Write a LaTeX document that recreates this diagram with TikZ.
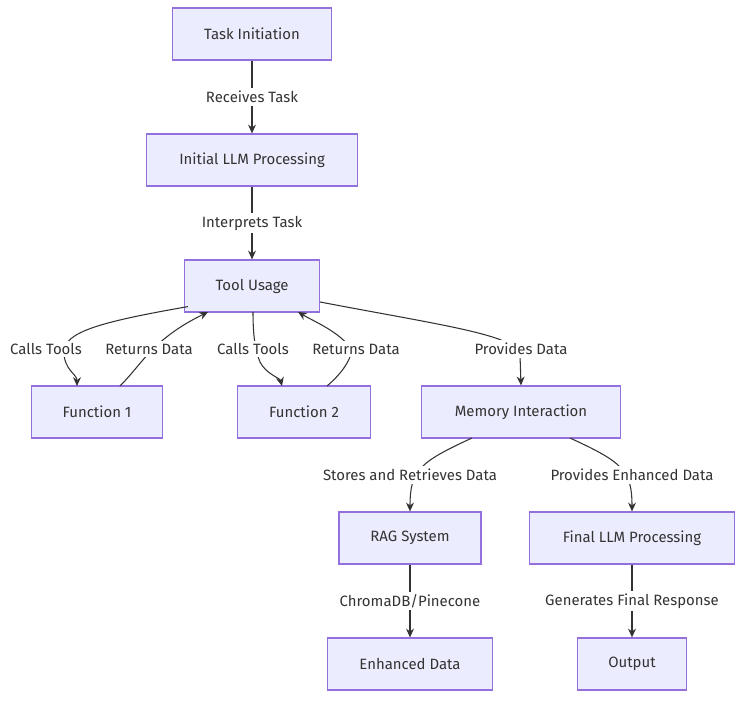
\documentclass[tikz,border=0pt]{standalone}
\usepackage{fontspec}
\setmainfont{Fira Sans}
\usetikzlibrary{arrows.meta}
\definecolor{nfill}{HTML}{ECECFF}
\definecolor{nstroke}{HTML}{9370DB}
\definecolor{ln}{HTML}{333333}
\begin{document}
\begin{tikzpicture}[x=0.02cm,y=-0.02cm,
 box/.style={draw=nstroke,fill=nfill,line width=0.7pt,minimum height=52*0.02cm,text=ln,font=\fontsize{8.5}{10}\selectfont,inner sep=0pt},
 lab/.style={fill=white,text=ln,font=\fontsize{8.5}{10}\selectfont,inner sep=1.5pt},
 e/.style={draw=ln,line width=0.6pt,-{Stealth[length=5pt,width=4.5pt]}}]
\useasboundingbox (0,0) rectangle (750,702);
\node[box,minimum width=159*0.02cm] (a) at (252,34) {Task Initiation};
\node[box,minimum width=211*0.02cm] (b) at (252,160) {Initial LLM Processing};
\node[box,minimum width=135*0.02cm] (c) at (252,286) {Tool Usage};
\node[box,minimum width=131*0.02cm] (f1) at (97,412) {Function 1};
\node[box,minimum width=133*0.02cm] (f2) at (304,412) {Function 2};
\node[box,minimum width=199*0.02cm] (m) at (521,412) {Memory Interaction};
\node[box,minimum width=142*0.02cm] (r) at (410,538) {RAG System};
\node[box,minimum width=205*0.02cm] (fl) at (632,538) {Final LLM Processing};
\node[box,minimum width=165*0.02cm] (ed) at (410,664) {Enhanced Data};
\node[box,minimum width=109*0.02cm] (o) at (632,664) {Output};

\draw[e] (a) -- node[lab]{Receives Task} (b);
\draw[e] (b) -- node[lab]{Interprets Task} (c);
\draw[e] (c.south west) ++(4,-6) .. controls (100,322) and (64,332) .. (64,352) coordinate (k1) .. controls (64,370) and (77,374) .. (77,386);
\node[lab] at (46,349) {Calls Tools};
\draw[e] (120,386) .. controls (132,374) and (142,360) .. (152,350) .. controls (172,330) and (192,320) .. (208,312);
\node[lab] at (149,349) {Returns Data};
\draw[e] (253,312) .. controls (253,335) and (255,350) .. (260,362) .. controls (266,374) and (280,378) .. (282,386);
\node[lab] at (253,349) {Calls Tools};
\draw[e] (327,386) .. controls (340,375) and (350,362) .. (352,350) .. controls (340,332) and (315,322) .. (298,312);
\node[lab] at (356,349) {Returns Data};
\draw[e] (c.east) ++(0,16) .. controls (440,325) and (518,335) .. (520,355) -- (m.north);
\node[lab] at (521,349) {Provides Data};
\draw[e] (472,438) .. controls (420,462) and (410,470) .. (r.north);
\node[lab] at (410,475) {Stores and Retrieves Data};
\draw[e] (570,438) .. controls (622,462) and (632,470) .. (fl.north);
\node[lab] at (632,475) {Provides Enhanced Data};
\draw[e] (r) -- node[lab]{ChromaDB/Pinecone} (ed);
\draw[e] (fl) -- node[lab]{Generates Final Response} (o);
\end{tikzpicture}
\end{document}
